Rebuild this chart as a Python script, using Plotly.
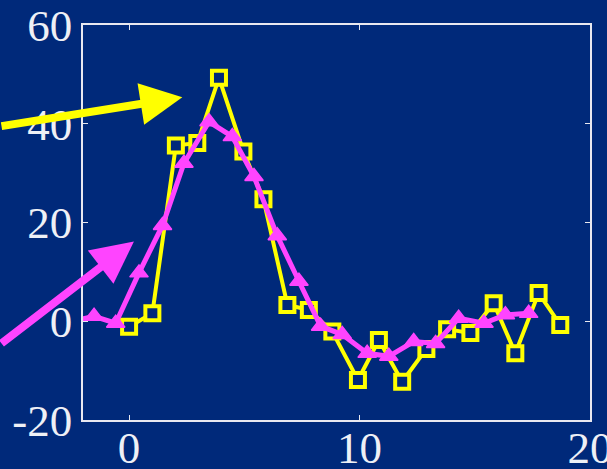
import plotly.graph_objects as go

# Series A (yellow, open squares)
x_a = [0, 1.01, 2.03, 2.96, 3.9, 4.96, 5.83, 6.87, 7.8, 8.82,
       9.93, 10.84, 11.85, 12.9, 13.8, 14.81, 15.82, 16.76, 17.77, 18.71]
y_a = [-1.1, 1.6, 35.6, 36.1, 49.3, 34.4, 24.7, 3.3, 2.3, -2.1,
       -11.9, -3.8, -12.25, -5.6, -1.6, -2.4, 3.65, -6.5, 5.7, -0.75]

# Series B (magenta, filled triangles)
x_b = [-2.5, -1.52, -0.58, 0.43, 1.45, 2.38, 3.47, 4.48, 5.42, 6.43, 7.37,
       8.31, 9.25, 10.33, 11.27, 12.35, 13.3, 14.3, 15.4, 16.33, 17.34]
y_b = [0.0, 1.0, -0.4, 9.8, 19.4, 32.0, 40.4, 37.4, 29.3, 17.3, 8.1,
       -1.0, -2.7, -6.5, -7.1, -4.1, -4.5, 0.6, -0.4, 1.3, 1.6]

x_ticks = [0, 10, 20]
x_labels = ["0", "10", "20"]
y_ticks = [-20, 0, 20, 40, 60]
y_labels = ["-20", "0", "20", "40", "60"]

BG = "#00297a"
YELLOW = "#ffff00"
MAGENTA = "#ff44ff"
FONT = dict(family="Liberation Serif", size=45, color="#eef0f6")

fig = go.Figure()
fig.add_trace(go.Scatter(
    x=x_a, y=y_a, mode="lines+markers",
    line=dict(color=YELLOW, width=4),
    marker=dict(symbol="square", size=14, color=BG,
                line=dict(color=YELLOW, width=4)),
))
fig.add_trace(go.Scatter(
    x=x_b, y=y_b, mode="lines+markers",
    line=dict(color=MAGENTA, width=5),
    marker=dict(symbol="triangle-up", size=16, color=MAGENTA,
                line=dict(color=MAGENTA, width=1.5)),
))

# Pointer arrows
fig.add_annotation(x=2.31, y=45.35, ax=-195, ay=29, axref="pixel", ayref="pixel",
                   text="", showarrow=True, arrowhead=2, arrowsize=1.05,
                   arrowwidth=8, arrowcolor=YELLOW, standoff=0)
fig.add_annotation(x=0.21, y=16.15, ax=-140, ay=103, axref="pixel", ayref="pixel",
                   text="", showarrow=True, arrowhead=2, arrowsize=1.05,
                   arrowwidth=8, arrowcolor=MAGENTA, standoff=0)

axis_common = dict(
    showgrid=False, zeroline=False, showline=True, linecolor="#e8e8f0",
    linewidth=1.5, mirror="ticks", ticks="inside", ticklen=5, tickwidth=1,
    tickcolor="#e8e8f0", tickfont=FONT, automargin=False,
    ticklabeloverflow="allow",
)
fig.update_xaxes(range=[-2, 20], tickvals=x_ticks, ticktext=x_labels,
                 ticklabelstandoff=-13, **axis_common)
fig.update_yaxes(range=[-20, 60], tickvals=y_ticks, ticktext=y_labels, **axis_common)

fig.update_layout(
    width=607, height=469,
    margin=dict(l=83, r=17, t=25, b=49),
    paper_bgcolor=BG, plot_bgcolor=BG,
    showlegend=False,
)

fig.write_html("out.html")
